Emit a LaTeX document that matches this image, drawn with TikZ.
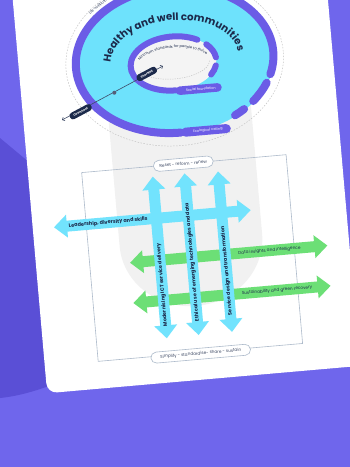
\documentclass[tikz,border=0pt]{standalone}
\usepackage{fontspec}
\setmainfont{Poppins}
\usetikzlibrary{decorations.text,arrows.meta}
\definecolor{bgpurple}{HTML}{6F66EC}
\definecolor{darkpurple}{HTML}{5A4FD6}
\definecolor{ringpurple}{HTML}{6B5CE6}
\definecolor{cyanfill}{HTML}{6EE2FC}
\definecolor{arrowcyan}{HTML}{72E3FD}
\definecolor{arrowgreen}{HTML}{6CDF76}
\definecolor{navy}{HTML}{1C2A4B}
\definecolor{capsule}{HTML}{F1F1F1}
\definecolor{innerfill}{HTML}{F4F4F4}
\definecolor{framecol}{HTML}{AEBBCB}
\definecolor{dashgray}{HTML}{C4C4C4}
\definecolor{pilltext}{HTML}{3A4661}
\newcommand\myharrow[4]{\fill[#1] (#3,#2) -- (#3+13,#2+11.5) -- (#3+13,#2+5.5) -- (#4-13,#2+5.5) -- (#4-13,#2+11.5) -- (#4,#2) -- (#4-13,#2-11.5) -- (#4-13,#2-5.5) -- (#3+13,#2-5.5) -- (#3+13,#2-11.5) -- cycle;}
\newcommand\myvarrow[4]{\fill[#1] (#2,#3) -- (#2+11.5,#3+13) -- (#2+5.5,#3+13) -- (#2+5.5,#4-13) -- (#2+11.5,#4-13) -- (#2,#4) -- (#2-11.5,#4-13) -- (#2-5.5,#4-13) -- (#2-5.5,#3+13) -- (#2-11.5,#3+13) -- cycle;}
\begin{document}
\begin{tikzpicture}[x=1pt,y=1pt,
  pill/.style={draw=framecol, line width=0.6pt, fill=white, rounded corners=5.5pt, minimum height=11pt, inner sep=0pt, text=pilltext, font=\fontsize{4.2}{5}\selectfont},
  tag/.style={fill=navy, rounded corners=3pt, minimum height=7pt, inner sep=1pt, text=white, font=\bfseries\fontsize{3}{3.5}\selectfont},
  ringlabel/.style={fill=ringpurple, text=white, font=\fontsize{3.4}{4}\selectfont, inner sep=0pt},
  vtext/.style={rotate=90, anchor=west, text=navy, font=\bfseries\fontsize{5}{6}\selectfont, inner sep=0pt},
  htext/.style={text=navy, font=\bfseries\fontsize{5}{6}\selectfont, inner sep=0pt},
  gtext/.style={text=navy, font=\fontsize{4.2}{5}\selectfont, inner sep=0pt},
  ringline/.style={ringpurple, line cap=round}]
\useasboundingbox (0,0) rectangle (350,-467);
\clip (0,0) rectangle (350,-467);
\fill[bgpurple] (0,0) rectangle (350,-467);
\fill[darkpurple] (0,-138) -- (30,-163) -- (70,-163) -- (70,-378) .. controls (40,-390) and (20,-396) .. (0,-398) -- cycle;
\begin{scope}[shift={(190,-190)}, rotate=5, every node/.style={transform shape}]
  % card
  \fill[white, rounded corners=10pt] (-160,-190) rectangle (154,320);
  % grey capsule
  \fill[capsule] (-75,131) -- (-75,-50) arc[start angle=180, end angle=360, x radius=71.5, y radius=66] -- (68,131) -- cycle;
  % outer dashed ellipse
  \draw[dashgray, line width=0.5pt, dash pattern=on 1.5pt off 1.5pt] (-4,130) ellipse [x radius=109, y radius=85];
  % big ellipse
  \fill[cyanfill] (-4,131) ellipse [x radius=100, y radius=74];
  \draw[ringline, line width=8pt] ({-4+99*cos(-18)},{131+73*sin(-18)}) arc[start angle=-18, end angle=270, x radius=99, y radius=73];
  \draw[ringline, line width=8pt] ({-4+99*cos(-25)},{131+73*sin(-25)}) arc[start angle=-25, end angle=-41, x radius=99, y radius=73];
  \draw[ringline, line width=8pt] ({-4+99*cos(-49)},{131+73*sin(-49)}) arc[start angle=-49, end angle=-56, x radius=99, y radius=73];
  \node[ringlabel, rounded corners=4.5pt, minimum width=50pt, minimum height=9pt] (eco) at (21,58) {\hspace*{4pt}Ecological ceiling};
  % inner ellipse
  \fill[innerfill] (-5.4,127.5) ellipse [x radius=43, y radius=27];
  \draw[ringline, line width=6pt] ({-5.4+43*cos(53)},{127.5+27*sin(53)}) arc[start angle=53, end angle=270, x radius=43, y radius=27];
  \draw[ringline, line width=6pt] ({-5.4+43*cos(37)},{127.5+27*sin(37)}) arc[start angle=37, end angle=5, x radius=43, y radius=27];
  \draw[ringline, line width=6pt] ({-5.4+43*cos(-12)},{127.5+27*sin(-12)}) arc[start angle=-12, end angle=-32, x radius=43, y radius=27];
  \node[ringlabel, rounded corners=4pt, minimum width=46pt, minimum height=8.5pt] (social) at (17.5,99.8) {\hspace*{4pt}Social foundation};
  \draw[dashgray, line width=0.5pt, dash pattern=on 1.2pt off 1.2pt] ({-5.4+36*cos(200)},{127.5+15.5*sin(200)}) arc[start angle=200, end angle=360, x radius=36, y radius=15.5];
  \path[decorate, decoration={text along path, text align=center, text color=navy, text={|\fontsize{3.6}{4}\selectfont|Minimum standards for people to thrive}}] ({-5.4+36*cos(176)},{127.5+15.5*sin(176)}) arc[start angle=176, end angle=4, x radius=36, y radius=15.5];
  % titles on the rings
  \path[decorate, decoration={text along path, text align=center, text color=navy, text={|\bfseries\fontsize{10.2}{11}\selectfont|Healthy and well communities}}] ({-4+64*cos(180)},{131+39.5*sin(180)}) arc[start angle=180, end angle=0, x radius=64, y radius=39.5];
  \path[decorate, decoration={text along path, text align=left, text color=navy, text={|\fontsize{3.4}{4}\selectfont|Life-supporting}}] ({-4+106*cos(139)},{131+80*sin(139)}) arc[start angle=139, end angle=85, x radius=106, y radius=80];
  % overshoot / shortfall axis
  \coordinate (ovEnd) at (-121.4,80.9);
  \coordinate (shEnd) at (-16.1,125.9);
  \draw[navy!85, line width=0.6pt, <->, >={Straight Barb[length=2pt,width=4pt]}] (ovEnd) -- (shEnd);
  \node[circle, fill=navy!75, minimum size=4pt, inner sep=0pt] (mid) at (-66.9,103.5) {};
  \node[tag, rotate=23, minimum width=24pt] (over) at (-102.1,87.5) {Overshoot};
  \node[tag, rotate=23, minimum width=22pt] (short) at (-33,119.4) {Shortfall};
  % frame
  \node[draw=framecol, line width=0.6pt, minimum width=205.2pt, minimum height=189.5pt, inner sep=0pt] (frame) at (-3.8,-67.95) {};
  \node[pill, minimum width=60pt] (reset) at (-4.4,26.8) {Reset - reform - renew};
  \node[pill, minimum width=100pt] (simplify) at (-3.6,-164) {Simplify - standardise- share - sustain};
  % arrows
  \myharrow{arrowgreen}{-67.3}{-66}{132}
  \myharrow{arrowgreen}{-107.7}{-66.2}{131.7}
  \myharrow{arrowcyan}{-25.3}{-138.7}{58.7}
  \myvarrow{arrowcyan}{-36}{-145.7}{16.5}
  \myvarrow{arrowcyan}{-4}{-145.2}{17}
  \myvarrow{arrowcyan}{29.5}{-145}{16}
  % arrow texts
  \node[htext, anchor=west] (lead) at (-124,-25.3) {Leadership, diversity and skills};
  \node[gtext, anchor=west] (data) at (42.5,-67.3) {Data insights and intelligence};
  \node[gtext, anchor=west] (sust) at (42.5,-107.7) {Sustainability and green recovery};
  \node[vtext] (ict) at (-36,-134) {Modernising ICT service delivery};
  \node[vtext] (eth) at (-4,-132) {Ethical use of emerging technologies and data};
  \node[vtext] (sd) at (29.5,-128.5) {Service design and transformation};
\end{scope}
\end{tikzpicture}
\end{document}
